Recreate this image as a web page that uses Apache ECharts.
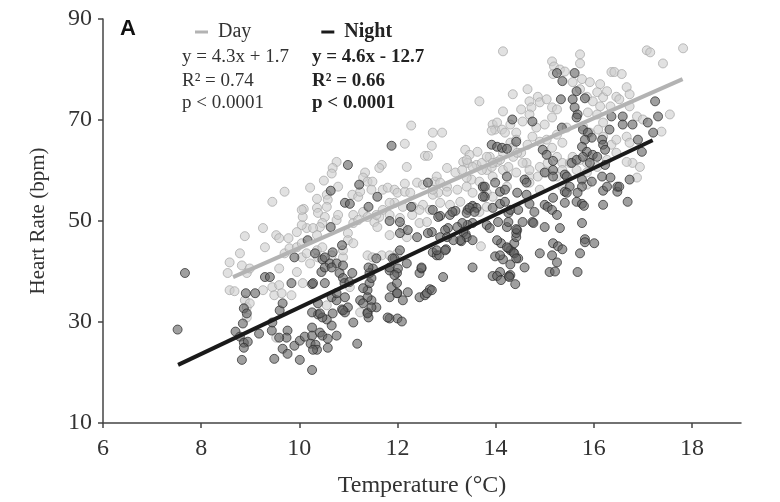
<!DOCTYPE html>
<html><head><meta charset="utf-8">
<script src="https://cdn.jsdelivr.net/npm/echarts@6/dist/echarts.min.js"></script>
<style>html,body{margin:0;padding:0;background:#fff}#c{width:780px;height:502px}</style>
</head><body><div id="c"></div>
<script>
const xTicks=[6,8,10,12,14,16,18];
const yTicks=[10,30,50,70,90];
const dayLine=[[8.65,38.9],[17.81,78.1]];
const nightLine=[[7.53,21.5],[17.20,66.0]];
const dayPoints=[
[8.58,41.8],[8.79,43.6],[8.54,39.7],[8.83,41.2],[8.93,39.7],[8.58,36.3],[8.68,36.1],[8.89,34.3],[8.93,32.9],[8.99,33.7],[9.30,44.8],[9.26,36.3],[9.45,36.9],[9.59,37.3],[9.49,35.3],[9.64,35.7],[9.84,35.3],[9.59,40.6],[9.95,39.9],[10.07,37.7],[10.22,41.6],[9.70,43.6],[9.80,44.6],[10.05,42.8],[9.53,26.9],[8.93,30.9],[8.99,40.6],[10.38,42.8],[10.89,42.8],[11.03,36.9],[11.24,31.9],[10.56,33.3],[11.39,43.2],[11.68,43.2],
[12.28,68.9],[12.15,65.3],[12.72,67.5],[12.70,64.9],[12.56,62.9],[12.62,62.9],[12.19,60.7],[11.68,61.1],[11.63,60.5],[10.76,61.7],[10.68,60.5],[10.66,59.4],[10.50,58.0],[10.22,56.6],[9.70,55.8],[9.45,53.8],[10.36,54.4],[10.56,55.2],[10.58,54.2],[10.56,52.8],[10.09,52.4],[10.36,52.6],[10.38,51.6],[10.52,50.8],[10.47,49.6],[10.42,48.8],[10.15,48.6],[10.28,48.6],[10.05,49.2],[10.07,50.8],[9.95,47.8],[10.36,47.2],
[10.79,56.8],[11.08,55.2],[11.20,54.8],[11.24,55.8],[11.34,59.6],[11.30,58.6],[11.39,57.8],[11.49,57.8],[11.47,56.2],
[11.70,56.2],[11.80,56.6],[11.94,56.2],[12.00,55.6],[12.15,55.8],[12.26,55.6],[12.40,57.6],[12.52,57.2],[12.15,57.4],
[12.76,57.8],[12.83,55.6],[12.72,55.2],[12.52,53.2],[12.66,52.2],[12.32,52.8],[12.11,52.8],[11.94,53.6],[11.84,53.6],[11.70,52.2],[11.63,50.8],[11.53,49.8],[11.30,51.8],[11.10,51.2],[11.10,49.6],[10.99,47.6],[11.20,50.2],[10.76,50.2],[10.79,51.2],
[11.59,48.8],[11.84,47.2],[12.11,48.6],[12.19,46.8],[12.45,49.6],[12.60,49.8],
[9.26,48.6],[9.53,47.2],[9.59,46.6],[9.78,46.6],[9.95,44.8],[8.89,47.0],
[10.05,45.6],[10.15,43.6],[10.36,44.2],[10.47,44.8],[10.66,43.2],[10.99,46.2],[11.10,45.6],[10.89,44.2],
[11.84,43.2],[12.00,43.6],[11.49,42.8],
[12.91,67.5],[13.38,64.1],[13.47,63.1],[13.63,63.7],[13.34,61.7],[13.43,61.5],[13.61,61.1],[13.72,61.5],[13.82,60.1],[13.92,60.7],[13.94,69.1],[13.99,68.1],[13.67,73.7],
[14.15,83.6],[15.15,81.6],[15.19,80.6],[15.31,80.0],[15.41,79.6],[15.17,79.1],[15.72,83.0],[15.72,81.2],[15.57,77.5],[15.76,78.1],[15.92,77.5],[16.13,77.1],[16.36,79.5],[16.42,79.5],[16.57,79.1],[17.08,83.8],[17.15,83.4],[17.41,81.2],[17.82,84.2],
[14.65,76.1],[14.35,75.1],[14.69,73.7],[14.86,74.6],[14.90,73.5],[15.04,74.1],[14.73,72.5],[14.52,72.1],[14.15,71.7],[14.03,69.5],[13.92,67.9],[14.13,68.1],
[15.15,72.5],[15.25,72.1],[15.15,70.5],[15.00,69.1],[14.83,68.5],[14.69,71.1],[14.55,69.7],[14.30,69.1],[14.19,67.5],[14.42,67.5],
[15.72,76.1],[15.86,74.6],[16.07,75.5],[16.19,74.5],[16.27,75.7],[16.46,74.6],[16.67,76.5],[16.73,75.1],[15.98,73.7],[16.13,72.7],[16.34,72.7],[16.52,74.1],[16.73,72.7],[16.88,70.7],[17.00,70.1],[17.38,67.7],[17.55,71.1],
[15.88,71.5],[16.07,71.1],[16.19,69.5],[16.09,68.1],[15.92,67.5],[15.78,68.7],[16.19,66.7],[16.36,65.1],[16.46,66.1],[16.67,66.7],[16.73,65.5],
[16.79,61.5],[16.94,60.7],[16.88,58.6],
[13.41,62.1],[13.88,62.7],[14.03,61.7],[14.15,63.5],[14.30,65.5],[14.34,64.5],[14.42,66.1],[14.52,63.5],[14.65,65.1],[14.75,66.7],[14.90,65.7],[15.04,66.1],[15.15,64.5],[15.36,65.5],[15.25,67.1],[15.45,68.5],
[12.80,58.8],[13.01,60.5],[13.18,59.6],[13.32,60.1],[13.51,58.2],[13.94,58.8],[14.15,60.1],[14.42,59.6],[14.63,61.5],[14.69,58.8],[14.90,60.7],[15.06,61.5],[15.25,62.7],[15.36,61.5],[15.57,62.7],[15.65,60.1],[15.86,59.6],[15.86,61.5],[16.07,60.7],
[13.01,56.8],[13.22,56.2],[13.41,56.8],[13.53,55.6],[13.74,56.6],[14.23,56.8],[14.69,57.6],[15.36,56.8],[14.90,56.2],[15.86,57.2],
[13.82,62.7],[13.94,61.5],[14.09,62.1],[14.26,60.7],[14.55,61.5],[14.69,60.1],[14.86,58.8],[15.04,59.6],[15.25,58.8],[15.36,60.1],[15.51,61.5],[15.72,62.1],[15.92,62.7],[16.27,62.1],[16.46,63.5],[16.67,61.7],
[13.41,58.6],[13.53,60.7],[13.72,60.1],[14.36,62.7],[14.44,63.5],
[12.72,56.2],[12.87,57.6],[13.01,55.8],[13.67,57.8],[13.82,55.6],[13.94,54.8],
[12.87,53.6],[13.07,53.2],[13.28,53.8],[13.53,52.8],[13.67,51.8],[13.82,52.8],
[12.45,52.2],[12.30,51.2],[12.05,50.6],[11.84,51.2],[11.57,51.2],[11.39,50.8],
[13.70,45.0],[10.05,52.2]
];
const nightPoints=[
[7.67,39.7],[7.52,28.5],[9.30,38.9],[9.40,38.9],[9.84,37.7],[10.26,37.5],[8.91,35.7],[9.10,35.7],[8.87,32.7],[8.93,31.7],[8.85,29.7],[8.70,28.1],[8.79,27.1],[8.87,25.9],[8.95,26.1],[8.87,24.9],[8.83,22.5],[9.18,27.7],[9.44,28.3],[9.45,29.9],[9.60,32.3],[9.66,33.7],[9.76,28.3],[9.74,26.9],[9.59,26.9],[9.49,22.7],[9.66,24.7],[9.76,23.7],[10.01,22.5],[9.90,25.3],[10.01,26.3],[10.11,27.1],[10.26,28.9],[10.26,27.3],[10.23,25.7],[10.33,25.5],[10.36,24.5],[10.28,24.5],
[10.26,20.5],[10.42,27.9],[10.47,27.3],[10.58,26.7],[10.58,24.9],[10.66,29.3],[10.76,27.3],[10.56,30.5],[10.38,31.5],[10.47,30.9],[10.26,31.9],[10.38,33.7],[10.52,37.7],[10.66,34.9],[10.76,34.3],[10.87,32.5],[10.93,31.9],[10.99,32.9],[10.82,39.7],[10.89,38.7],[10.92,37.7],[11.02,37.9],[11.10,29.9],[11.18,25.7],[11.08,39.7],[11.24,34.3],[11.39,31.9],[11.41,30.9],[11.47,34.3],[11.57,32.9],[11.39,36.3],[11.43,37.7],[11.47,38.7],[11.50,40.6],[11.57,42.6],[11.84,30.7],[12.00,30.7],[12.09,30.1],[11.88,36.9],[11.99,37.7],[12.00,35.7],[12.11,34.3],[12.21,35.9],[11.84,40.2],[11.99,39.7],[12.01,40.6],[11.94,42.6],[12.45,39.7],[12.49,40.6],[12.45,34.9],[12.56,35.3],[12.66,36.5],[12.72,43.8],[12.80,43.2],
[16.69,53.8],[16.19,53.2],[16.48,55.8],[16.19,56.0],[15.76,49.6],[15.82,46.4],[15.82,45.8],[16.01,45.6],[15.72,43.6],[15.67,39.9],[15.41,53.6],[15.65,53.8],[15.76,53.4],[15.80,53.0],[15.31,48.6],[15.00,48.8],[15.17,45.6],[15.27,45.0],[15.36,44.4],[15.15,43.2],[15.25,41.8],[15.10,39.9],[15.21,40.0],[14.90,43.6],[14.75,49.8],[14.55,49.8],[14.59,40.8],[14.46,42.6],[14.40,37.5],[14.27,39.1],[14.30,41.4],[14.15,42.4],[14.09,39.9],[13.94,39.1],[14.03,39.1],[14.11,38.3],[13.99,43.0],[14.30,44.2],[14.36,43.8],[14.26,44.6],[14.38,45.6],[14.11,45.6],[14.42,46.8],[14.44,48.2],[14.42,47.6],[13.53,40.8],[12.93,38.9],[12.99,44.4],[12.85,43.2],[13.30,46.0],[13.39,47.4],
[12.72,52.2],[12.87,51.0],[13.07,51.2],[13.18,52.0],[13.43,52.2],[13.53,53.0],[13.61,52.6],[13.78,54.8],[13.94,52.6],[14.09,53.4],[14.19,53.8],[14.26,51.6],[14.30,52.2],[14.46,52.2],[14.69,53.4],[14.79,51.8],[15.00,53.2],[15.06,52.8],[15.15,52.2],[15.17,54.6],[15.25,51.2],[15.41,55.8],
[13.82,49.2],[13.88,48.6],[14.05,49.8],[14.23,48.8],[14.42,48.4],[13.53,49.6],[13.43,49.2],[13.32,49.6],[13.22,48.8],[13.03,48.6],[12.87,46.8],[14.09,43.2],[14.38,43.6],
[17.25,73.7],[17.31,70.7],[17.21,67.5],[17.10,69.5],[16.90,66.1],[16.98,63.7],[16.59,70.7],[16.59,69.1],[16.79,69.1],[16.36,70.7],[16.32,68.1],[15.25,79.3],[15.36,77.7],[15.61,79.3],[15.65,75.7],[15.82,74.3],[15.57,74.1],[15.33,74.1],[15.61,72.5],[15.67,71.1],[15.65,70.5],[14.75,69.7],[14.34,70.1],[14.42,65.7],[15.35,68.5],[15.78,68.1],[15.88,67.5],[15.96,66.5],[15.82,66.1],[15.76,64.7],[15.86,63.7],[15.98,63.1],[16.17,66.1],[16.19,65.1],[16.23,64.1],[13.92,65.1],[14.03,64.7],[14.13,64.5],[14.23,64.3],
[14.96,64.1],[15.04,63.1],[15.17,61.9],[15.00,59.6],[15.17,60.1],[15.41,59.2],[15.55,61.5],[15.65,62.1],[15.78,62.7],[15.92,61.5],[16.07,62.7],[16.23,61.1],[16.17,58.8],[16.34,58.6],[16.27,56.8],[16.73,58.2],[16.48,56.8],[14.59,58.2],[14.63,57.6],[14.23,58.8],[13.99,57.6],[13.74,56.8],[14.09,55.8],[15.17,58.8],[15.45,58.8],[15.51,56.8],[15.76,58.2],[15.96,57.8],[15.76,56.8],[15.45,55.6],[15.67,55.6],[14.44,55.6],[14.63,55.2],
[11.88,64.9],[10.99,61.1],[11.22,57.2],[10.64,56.0],[10.93,53.6],[11.03,53.4],[11.41,52.8],[11.59,54.8],[10.64,48.8],[10.17,46.2],[10.87,45.2],[10.32,43.6],[10.47,42.4],[10.62,41.6],[10.76,41.6],[10.68,43.8],[10.45,39.9],[10.52,40.8],[9.90,42.8],[11.43,39.7],[11.84,40.8],[11.94,39.3],[12.05,44.2],[12.05,49.8],[12.21,48.2],[12.28,52.8],[12.05,47.6],[11.84,50.0],[12.40,46.8],[12.49,40.8],[12.70,47.8],[12.83,50.8],[12.80,44.2],[12.62,57.6],
[13.78,56.8],[14.19,56.2],[13.74,54.8],[13.12,51.8],[13.41,51.6],[13.47,52.6],[13.57,51.8],
[12.62,47.6],[12.97,48.2],[13.01,46.8],[13.34,47.8],[13.41,46.8],[13.28,46.2],[13.14,46.2],[13.53,46.2],
[10.52,42.8],[10.66,40.8],[10.89,41.2],[11.41,40.8],[11.90,42.6],[12.19,41.6],[12.97,44.2],[14.30,39.3],
[14.03,46.2],[14.23,44.8],[14.42,42.6],
[10.28,37.7],[10.76,35.7],[10.93,34.9],[11.30,36.7],[11.39,34.9],[11.30,33.7],[11.39,31.7],[11.47,32.9],[11.99,35.7],[11.84,34.9],[12.60,35.7],[12.70,36.3],
[10.42,31.7],[10.68,31.7],[10.89,32.3],[11.80,30.9],
[16.52,56.8],[14.77,49.6],[14.28,38.9],[14.26,49.8]
];

const serif='"Liberation Serif", "Times New Roman", serif';
const txt='#333';
const chart=echarts.init(document.getElementById('c'),null,{renderer:'canvas'});
chart.setOption({
  animation:false,
  backgroundColor:'#fff',
  grid:{left:103,right:39,top:19,bottom:79,containLabel:false,outerBoundsMode:'none'},
  legend:{
    left:190,top:17,icon:'rect',itemWidth:13,itemHeight:3,itemGap:70,
    textStyle:{fontFamily:serif,fontSize:20,color:txt,padding:[0,0,0,5]},
    data:[{name:'Day'},{name:'Night',textStyle:{fontWeight:'bold',color:'#222',padding:[0,0,0,5]}}]
  },
  xAxis:{
    type:'value',min:6,max:19,
    axisLine:{show:true,lineStyle:{color:'#444',width:1.5}},
    axisTick:{show:true,length:5,customValues:xTicks,lineStyle:{color:'#444',width:1.5}},
    axisLabel:{customValues:xTicks,fontFamily:serif,fontSize:24,color:txt,margin:14},
    splitLine:{show:false},
    name:'Temperature (°C)',nameLocation:'middle',nameGap:51,
    nameTextStyle:{fontFamily:serif,fontSize:24,color:txt}
  },
  yAxis:{
    type:'value',min:10,max:90,interval:20,
    axisLine:{show:true,lineStyle:{color:'#444',width:1.5}},
    axisTick:{show:true,length:5,customValues:yTicks,lineStyle:{color:'#444',width:1.5}},
    axisLabel:{customValues:yTicks,fontFamily:serif,fontSize:24,color:txt,margin:11},
    splitLine:{show:false},
    name:'Heart Rate (bpm)',nameLocation:'middle',nameGap:54,
    nameTextStyle:{fontFamily:serif,fontSize:21,color:txt}
  },
  graphic:[
    {type:'text',style:{x:120,y:29,text:'A',font:'bold 22px "Liberation Sans", Arial, sans-serif',fill:'#111',verticalAlign:'middle'}},
    {type:'text',style:{x:182,y:57,text:'y = 4.3x + 1.7',font:'19px '+serif,fill:txt,verticalAlign:'middle'}},
    {type:'text',style:{x:182,y:81,text:'R² = 0.74',font:'19px '+serif,fill:txt,verticalAlign:'middle'}},
    {type:'text',style:{x:182,y:103,text:'p < 0.0001',font:'19px '+serif,fill:txt,verticalAlign:'middle'}},
    {type:'text',style:{x:312,y:57,text:'y = 4.6x - 12.7',font:'bold 19px '+serif,fill:'#222',verticalAlign:'middle'}},
    {type:'text',style:{x:312,y:81,text:'R² = 0.66',font:'bold 19px '+serif,fill:'#222',verticalAlign:'middle'}},
    {type:'text',style:{x:312,y:103,text:'p < 0.0001',font:'bold 19px '+serif,fill:'#222',verticalAlign:'middle'}}
  ],
  series:[
    {name:'Day points',type:'scatter',data:dayPoints,symbolSize:9,
     itemStyle:{color:'rgba(205,205,205,0.75)',borderColor:'rgba(165,165,165,0.9)',borderWidth:1}},
    {name:'Night points',type:'scatter',data:nightPoints,symbolSize:9,
     itemStyle:{color:'rgba(95,95,95,0.75)',borderColor:'rgba(40,40,40,0.9)',borderWidth:1}},
    {name:'Day',type:'line',data:dayLine,symbol:'none',color:'#b3b3b3',
     lineStyle:{color:'#b3b3b3',width:4},itemStyle:{color:'#b3b3b3'}},
    {name:'Night',type:'line',data:nightLine,symbol:'none',color:'#1a1a1a',
     lineStyle:{color:'#1a1a1a',width:4},itemStyle:{color:'#1a1a1a'}}
  ]
});
</script></body></html>
